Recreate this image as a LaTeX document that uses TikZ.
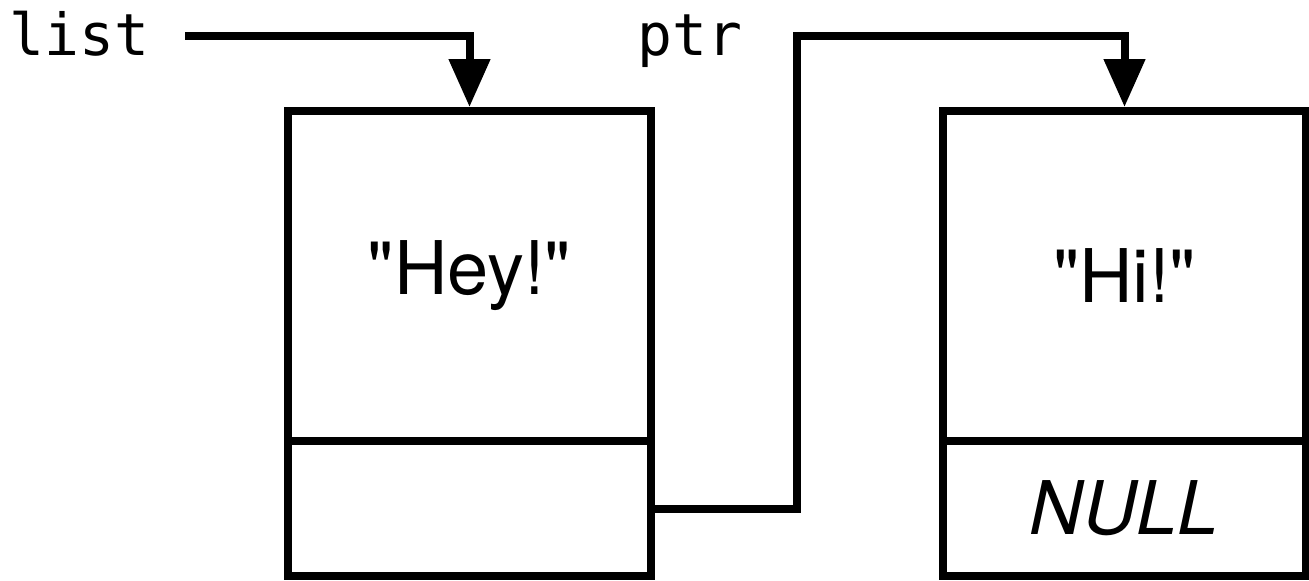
\documentclass[tikz,border=0pt]{standalone}
\usepackage{fontspec}
\setmainfont{TeX Gyre Heros}
\setmonofont{DejaVu Sans Mono}
\usetikzlibrary{positioning,arrows.meta}

\tikzset{
	cell/.style = {draw, line width=4pt, minimum width=181.5pt, inner sep=0pt, font=\fontsize{37}{40}\selectfont},
	datacell/.style = {cell, minimum height=165pt},
	nextcell/.style = {cell, minimum height=67.5pt},
	varname/.style = {inner sep=0pt, anchor=base west, font=\ttfamily\fontsize{29}{30}\selectfont},
	link/.style = {line width=4pt, -{Triangle[length=24pt,width=20pt]}},
}

\begin{document}
\begin{tikzpicture}[x=0.5pt, y=0.5pt]
	\useasboundingbox (0,0) rectangle (1309,580);

	\node[datacell] (hey) at (469.5,304) {\textquotedbl Hey!\textquotedbl};
	\node[nextcell, below=-4pt of hey] (heynext) {};
	\node[datacell, right=142pt of hey] (hi) {\textquotedbl Hi!\textquotedbl};
	\node[nextcell, below=-4pt of hi] (hinext) {\itshape NULL};

	\node[varname] (list) at (9,524) {list};
	\node[varname] (ptr) at (637,524) {ptr};

	\coordinate (liststart) at (185,544);
	\coordinate (ptrbend) at (797,544);

	\draw[link] (liststart) -| (hey.north);
	\draw[link] (heynext.east) -| (ptrbend) -| (hi.north);

\end{tikzpicture}
\end{document}
